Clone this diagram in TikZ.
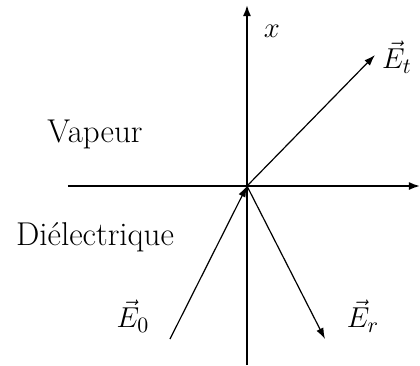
\documentclass[tikz,border=0pt]{standalone}
\usetikzlibrary{arrows.meta}
\begin{document}
\begin{tikzpicture}[x=0.5pt,y=-0.5pt,
  axis/.style={line width=0.9pt,-{Latex[length=5.5pt,width=4pt]}},
  vec/.style={line width=0.6pt,-{Latex[length=5.5pt,width=3.8pt]}},
  lbl/.style={inner sep=0pt,font=\fontsize{15.5}{18}\selectfont},
  txt/.style={inner sep=0pt,font=\fontsize{16.5}{20}\selectfont}]
\useasboundingbox (0,0) rectangle (420,366);
\coordinate (O) at (247,186);
\coordinate (xtop) at (247,5);
\coordinate (xbot) at (247,365);
\coordinate (zleft) at (68,186);
\coordinate (zright) at (420,186);
\coordinate (Ett) at (375,55);
\coordinate (E0s) at (170,339);
\coordinate (Ert) at (325,339);
\draw[axis] (xbot) -- (xtop);
\draw[axis] (zleft) -- (zright);
\draw[vec] (O) -- (Ett);
\draw[vec] (E0s) -- (O);
\draw[vec] (O) -- (Ert);
\node[lbl] (lx) at (272,31) {$x$};
\node[lbl] (let) at (397,57) {$\vec{E}_t$};
\node[lbl] (le0) at (133,316) {$\vec{E}_0$};
\node[lbl] (ler) at (363,316) {$\vec{E}_r$};
\node[txt,anchor=base] (vap) at (95,142) {Vapeur};
\node[txt,anchor=base] (die) at (95,245) {Diélectrique};
\end{tikzpicture}
\end{document}
